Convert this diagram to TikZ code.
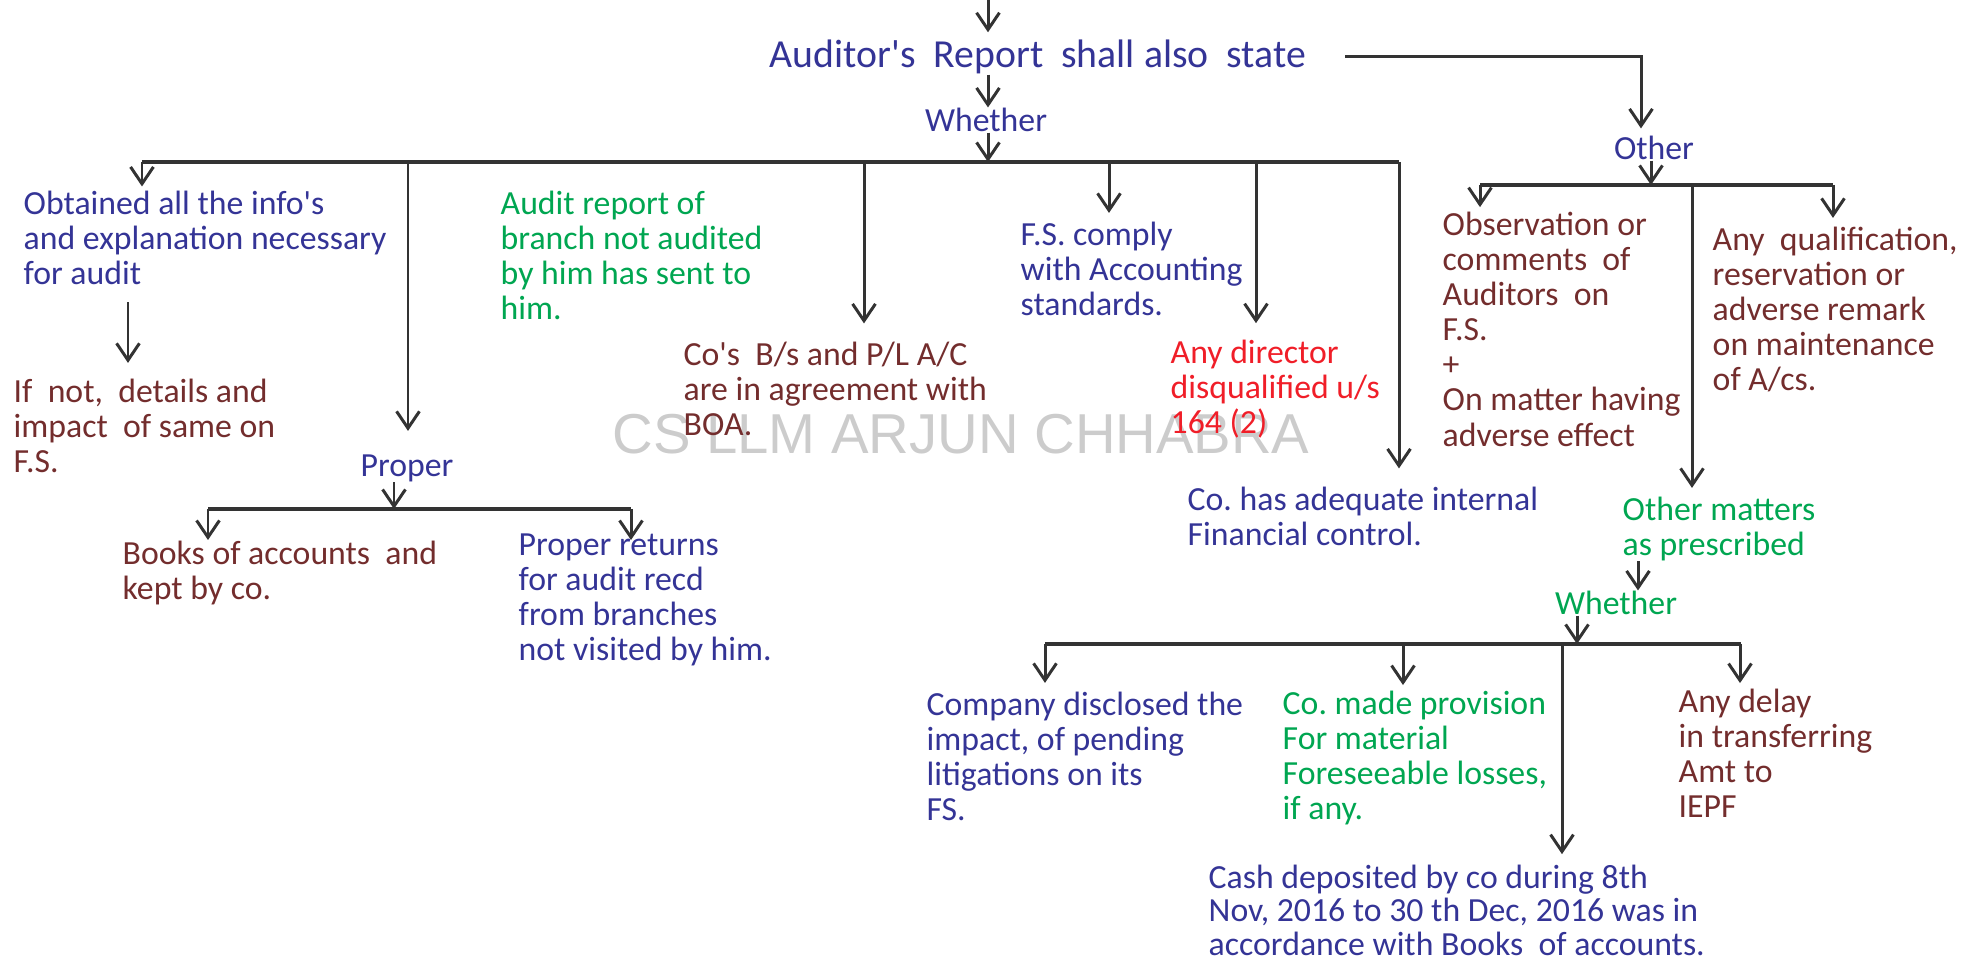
\documentclass[tikz,border=0pt]{standalone}
\usepackage{fontspec}
\setmainfont{Carlito}[Ligatures=TeXOff]
\newfontfamily\wmfont{Liberation Sans}
\usetikzlibrary{arrows.meta}
\frenchspacing

\definecolor{tblue}{RGB}{52,52,150}
\definecolor{tgreen}{RGB}{0,166,81}
\definecolor{tbrown}{RGB}{115,45,45}
\definecolor{tred}{RGB}{240,30,40}
\definecolor{tline}{RGB}{51,51,51}

\tikzset{
  txt/.style={anchor=north west,inner sep=0pt,align=left,font=\fontsize{9.6}{10}\selectfont},
  arr/.style={-{Straight Barb[length=4.8pt,width=6.5pt]},line width=0.85pt,draw=tline},
  bar/.style={line width=1pt,draw=tline}
}

\begin{document}
\begin{tikzpicture}[x=0.01cm,y=-0.01cm]
  \useasboundingbox (0,0) rectangle (1984,961);
  \node[text=gray!40,font=\wmfont\fontsize{16}{16}\selectfont] (wm) at (961,434) {CS LLM ARJUN CHHABRA};

  \coordinate (top) at (988,0);
  \node[inner sep=0pt,text=tblue,font=\fontsize{11.3}{12}\selectfont] (rep) at (1038,57) {Auditor's~~Report~~shall also~~state};
  \node[txt,anchor=center,text=tblue] (wh1) at (986,120) {Whether};
  \node[txt,anchor=center,text=tblue] (oth) at (1654,148) {Other};

  \node[txt,text=tblue] (obt) at (23,190) {Obtained all the info's\\and explanation necessary\\for audit};
  \node[txt,text=tbrown] (ifn) at (13,378) {If\ \ not,\ \ details and\\impact\ \ of same on\\F.S.};
  \node[txt,text=tgreen] (brn) at (500,190) {Audit report of\\branch not audited\\by him has sent to\\him.};
  \node[txt,text=tbrown] (bs) at (683,341) {Co's\ \ B/s and P/L A/C\\are in agreement with\\BOA.};
  \node[txt,text=tblue] (fs) at (1020,221) {F.S. comply\\with Accounting\\standards.};
  \node[txt,text=tred] (dir) at (1170,339) {Any director\\disqualified u/s\\164 (2)};
  \node[txt,text=tblue] (ifc) at (1187,486) {Co. has adequate internal\\Financial control.};

  \node[txt,anchor=center,text=tblue] (prop) at (407,468) {Proper};
  \node[txt,text=tbrown] (books) at (122,540) {Books of accounts\ \ and\\kept by co.};
  \node[txt,text=tblue] (ret) at (518,533) {Proper returns\\for audit recd\\from branches\\not visited by him.};

  \node[txt,text=tbrown] (obs) at (1442,211) {Observation or\\comments\ \ of\\Auditors\ \ on\\F.S.\\+\\On matter having\\adverse effect};
  \node[txt,text=tbrown] (qual) at (1712,226) {Any\ \ qualification,\\reservation or\\adverse remark\\on maintenance\\of A/cs.};
  \node[txt,text=tgreen] (oma) at (1622,496) {Other matters\\as prescribed};
  \node[txt,anchor=center,text=tgreen] (wh2) at (1616,603) {Whether};

  \node[txt,text=tblue] (cmp) at (926,691) {Company disclosed the\\impact, of pending\\litigations on its\\FS.};
  \node[txt,text=tgreen] (prov) at (1282,690) {Co. made provision\\For material\\Foreseeable losses,\\if any.};
  \node[txt,text=tblue,font=\fontsize{9.6}{9.6}\selectfont] (cash) at (1208,864) {Cash deposited by co during 8th\\Nov, 2016 to 30 th Dec, 2016 was in\\accordance with Books\ \ of accounts.};
  \node[txt,text=tbrown] (iepf) at (1678,688) {Any delay\\in transferring\\Amt to\\IEPF};

  \coordinate (b1w) at (142,162);  \coordinate (b1e) at (1399,162);
  \coordinate (b2w) at (1480,185); \coordinate (b2e) at (1833,185);
  \coordinate (b3w) at (1045,644); \coordinate (b3e) at (1741,644);
  \coordinate (b4w) at (208,509);  \coordinate (b4e) at (631,509);
  \foreach \a/\b in {b1w/b1e,b2w/b2e,b3w/b3e,b4w/b4e}
    \draw[bar] (\a) -- (\b);

  \draw[arr,shorten >=2pt] (top) -- (top |- rep.north);
  \draw[arr] (top |- rep.south) -- (top |- wh1.north);
  \draw[arr] (top |- wh1.south) -- (b1w -| top);
  \draw[arr,shorten <=11pt,shorten >=2pt] (rep.east) -| (oth.north -| 1641,0);
  \draw[arr] (oth.south -| 1651,0) -- (b2w -| 1651,0);
  \draw[arr] (oma.south -| 1638,0) -- (1638,0 |- wh2.north);
  \draw[arr] (wh2.south -| 1577,0) -- (b3w -| 1577,0);
  \draw[arr] (prop.south -| 394,0) -- (b4w -| 394,0);
  \draw[arr,shorten <=4.8pt,shorten >=4.3pt] (obt.south -| 128,0) -- (128,0 |- ifn.north);

  \foreach \x/\n/\g in {142/obt/1pt,408/prop/6.5pt,864/bs/5pt,1109/fs/2.3pt,1256/dir/4.5pt,1399/ifc/5pt}
    \draw[arr,shorten >=\g] (b1w -| \x,0) -- (\x,0 |- \n.north);
  \foreach \x/\n/\g in {1480/obs/1.1pt,1692/oma/2.3pt,1833/qual/2.3pt}
    \draw[arr,shorten >=\g] (b2w -| \x,0) -- (\x,0 |- \n.north);
  \foreach \x/\n/\g in {1045/cmp/2.3pt,1403/prov/1.4pt,1562/cash/2.8pt,1740/iepf/1.4pt}
    \draw[arr,shorten >=\g] (b3w -| \x,0) -- (\x,0 |- \n.north);
  \foreach \x/\n/\g in {208/books/0pt,631/ret/-2pt}
    \draw[arr,shorten >=\g] (b4w -| \x,0) -- (\x,0 |- \n.north);

\end{tikzpicture}
\end{document}
